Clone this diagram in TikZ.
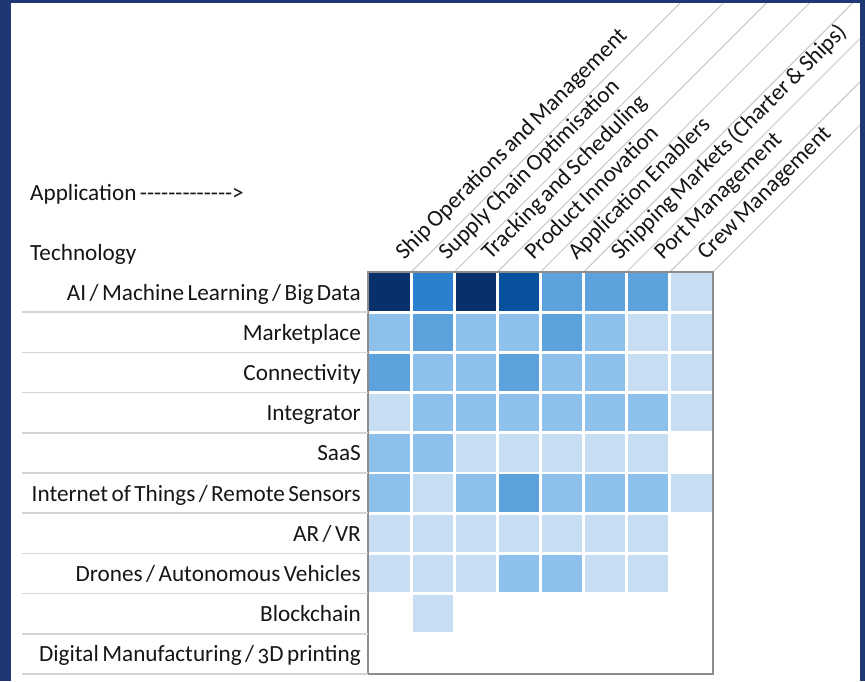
\documentclass[tikz,border=0pt]{standalone}
\usepackage{fontspec}
\setmainfont{Carlito}
\newfontfamily\plainfont{Carlito}
\usetikzlibrary{calc}
\definecolor{navy}{RGB}{30,56,118}
\definecolor{c6}{RGB}{8,48,107}
\definecolor{c5}{RGB}{8,81,156}
\definecolor{c4}{RGB}{42,128,204}
\definecolor{c3}{RGB}{92,163,222}
\definecolor{c2}{RGB}{141,192,234}
\definecolor{c1}{RGB}{198,221,242}
\definecolor{c0}{RGB}{255,255,255}
\definecolor{txt}{RGB}{22,22,22}
\definecolor{sepgray}{RGB}{212,212,212}
\definecolor{framegray}{RGB}{140,140,140}
\definecolor{diaggray}{RGB}{200,200,200}
\newcommand\lblfont{\fontsize{23.2}{27}\selectfont\spaceskip 0.15em plus 0.05em minus 0.02em\relax}
\tikzset{
  lbl/.style={font=\lblfont, text=txt, inner sep=0pt},
  rowlbl/.style={lbl, anchor=base east},
  collbl/.style={lbl, anchor=base west, rotate=45},
  sepline/.style={draw=sepgray, line width=1.5pt},
  diagline/.style={draw=diaggray, line width=1pt},
  gridframe/.style={draw=framegray, line width=1.5pt}
}
\begin{document}
\begin{tikzpicture}[x=1pt,y=-1pt]
\useasboundingbox (0,0) rectangle (865,681);
\fill[white] (0,0) rectangle (865,681);
\def\gx{368}\def\gy{272}\def\cw{43.125}\def\rh{40.2}
% diagonal header lines
\begin{scope}
\clip (0,0) rectangle (865,681);
\foreach \i in {1,...,8} {
  \coordinate (L\i) at ({\gx+\cw*\i},\gy);
  \coordinate (T\i) at ({\gx+\cw*\i+\gy},0);
  \draw[diagline] (L\i) -- (T\i);
}
\end{scope}
% column labels
\foreach \t [count=\i] in {Ship Operations and Management,Supply Chain Optimisation,Tracking and Scheduling,Product Innovation,Application Enablers,Shipping Markets (Charter \& Ships),Port Management,Crew Management} {
  \node[collbl] (col\i) at ($(L\i)+(-7,-11)$) {\t};
}
% cells
\foreach \row [count=\r] in {{6,4,6,5,3,3,3,1},{2,3,2,2,3,2,1,1},{3,2,2,3,2,2,1,1},{1,2,2,2,2,2,2,1},{2,2,1,1,1,1,1,0},{2,1,2,3,2,2,2,1},{1,1,1,1,1,1,1,0},{1,1,1,2,2,1,1,0},{0,1,0,0,0,0,0,0},{0,0,0,0,0,0,0,0}} {
  \foreach \v [count=\c] in \row {
    \fill[c\v] ({\gx+\cw*(\c-1)+1.4},{\gy+\rh*(\r-1)+1.4}) rectangle ({\gx+\cw*\c-1.4},{\gy+\rh*\r-1.4});
  }
}
\draw[gridframe] (\gx,\gy) rectangle ({\gx+8*\cw},{\gy+10*\rh});
% row separators and labels
\foreach \t [count=\k] in {AI / Machine Learning / Big Data,Marketplace,Connectivity,Integrator,SaaS,Internet of Things / Remote Sensors,AR / VR,Drones / Autonomous Vehicles,Blockchain,Digital Manufacturing / {\addfontfeatures{Numbers=OldStyle}3}D printing} {
  \coordinate (sa\k) at (22,{\gy+\rh*\k});
  \coordinate (sb\k) at (\gx,{\gy+\rh*\k});
  \draw[sepline] (sa\k) -- (sb\k);
  \node[rowlbl] (row\k) at (361,{\gy+\rh*(\k-1)+28}) {\t};
}
\node[lbl, anchor=base west] (app) at (30,200) {Application {\plainfont -------------{>}}};
\node[lbl, anchor=base west] (tech) at (30,260) {Technology};
% navy border
\fill[navy] (0,0) rectangle (11,681);
\fill[navy] (0,0) rectangle (865,3);
\fill[navy] (860,0) rectangle (865,681);
\end{tikzpicture}
\end{document}
